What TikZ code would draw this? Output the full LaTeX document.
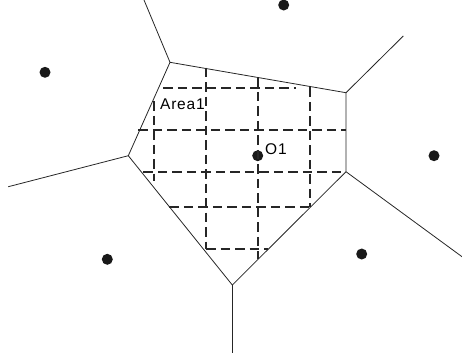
\documentclass[tikz,border=0pt]{standalone}
\usepackage{fontspec}
\setmainfont{Liberation Sans}
\usetikzlibrary{positioning}
\tikzset{
  site/.style={circle, fill=black!90, inner sep=0pt, minimum size=11pt},
  edge/.style={line width=0.8pt, black!85},
  cell/.style={line width=1.8pt, black!85, dash pattern=on 9.5pt off 5pt},
  lab/.style={inner sep=0pt, font=\fontsize{15.5}{18}\selectfont\addfontfeature{LetterSpace=5}}
}

\begin{document}
\begin{tikzpicture}[x=1pt, y=-1pt]
  \useasboundingbox (0,0) rectangle (462,360);
  % generator points
  \node[site] (s1) at (45,72.3) {};
  \node[site] (s2) at (283.7,5) {};
  \node[site] (s3) at (434,155.7) {};
  \node[site] (s4) at (107.3,259.3) {};
  \node[site] (s5) at (361.7,254) {};
  \node[site] (o1) at (257.7,155.7) {};
  % cell of O1
  \coordinate (vA) at (170,62.3);
  \coordinate (vB) at (346,92.7);
  \coordinate (vC) at (346,171.7);
  \coordinate (vD) at (232.3,285);
  \coordinate (vE) at (128.3,155.7);
  \draw[edge] (vA) -- (vB) -- (vC) -- (vD) -- (vE) -- cycle;
  % rays to neighbouring cells
  \coordinate (rA) at (144,0);
  \coordinate (rB) at (403.3,36);
  \coordinate (rC) at (462,256.7);
  \coordinate (rD) at (232.3,352.7);
  \coordinate (rE) at (8.3,186.7);
  \draw[edge] (vA) -- (rA);
  \draw[edge] (vB) -- (rB);
  \draw[edge] (vC) -- (rC);
  \draw[edge] (vD) -- (rD);
  \draw[edge] (vE) -- (rE);
  % grid of areas
  \draw[cell] (163.3,87.7) -- (296,87.7);
  \draw[cell] (138.3,130) -- (346,130);
  \draw[cell] (143.3,171.7) -- (346,171.7);
  \draw[cell] (169.3,206.7) -- (311.7,206.7);
  \draw[cell] (206,249) -- (268.3,249);
  \draw[cell] (154,101) -- (154,181);
  \draw[cell] (206,67.5) -- (206,249);
  \draw[cell] (258,77.3) -- (258,259.3);
  \draw[cell] (310,87.3) -- (310,206.7);
  % labels
  \node[lab, anchor=base west] (area) at (160,109.3) {Area1};
  \node[lab, anchor=base west] (o1lab) at (265,154.3) {O1};
\end{tikzpicture}
\end{document}
